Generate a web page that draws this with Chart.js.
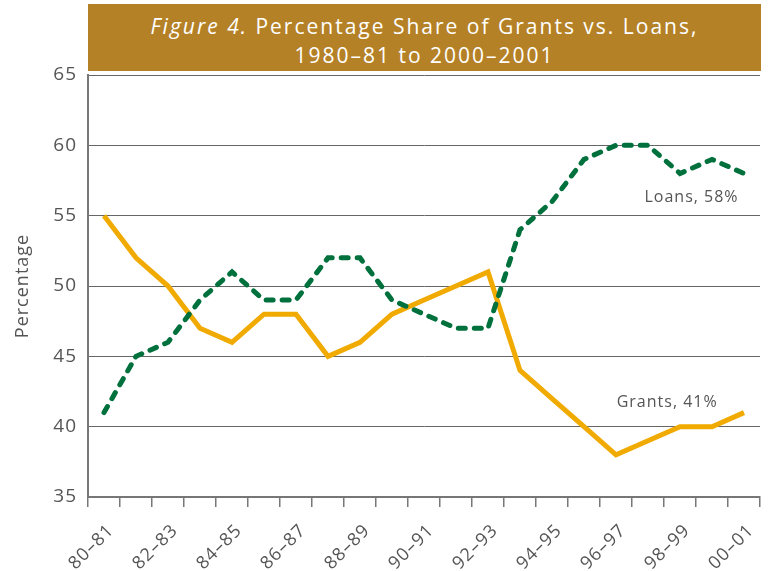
<!DOCTYPE html>
<html>
<head>
<meta charset="utf-8">
<script src="https://cdn.jsdelivr.net/npm/chart.js@4.4.1/dist/chart.umd.min.js"></script>
<style>
  html, body { margin: 0; padding: 0; background: #fff; }
  #wrap { position: relative; width: 769px; height: 571px; }
  #banner {
    position: absolute; left: 88px; top: 4px; width: 673px; height: 67px;
    background: #b58127; color: #fff; text-align: center;
    font-family: 'Open Sans', sans-serif; font-size: 21px; line-height: 29px;
    letter-spacing: 2px; box-sizing: border-box; padding-top: 8px;
  }
  #banner i { font-style: italic; }
</style>
</head>
<body>
<div id="wrap">
  <canvas id="chart" width="769" height="571"></canvas>
  <div id="banner"><i>Figure 4.</i> Percentage Share of Grants vs. Loans,<br>1980–81 to 2000–2001</div>
</div>
<script>
// --- Data ---
const years = ['80–81', '81–82', '82–83', '83–84', '84–85', '85–86', '86–87', '87–88', '88–89', '89–90',
    '90–91', '91–92', '92–93', '93–94', '94–95', '95–96', '96–97', '97–98', '98–99', '99–00', '00–01'];
const grants = [55, 52, 50, 47, 46, 48, 48, 45, 46, 48, 49, 50, 51, 44, 42, 40, 38, 39, 40, 40, 41];
const loans = [41, 45, 46, 49, 51, 49, 49, 52, 52, 49, 48, 47, 47, 54, 56, 59, 60, 60, 58, 59, 58];
const yTicks = [35, 40, 45, 50, 55, 60, 65];

// series end labels: text, category index, value
const seriesLabels = [
    { text: 'Loans, 58%', idx: 18.36, val: 56.3 },
    { text: 'Grants, 41%', idx: 17.6, val: 41.7 }
];

const FONT = "'Open Sans', sans-serif";
const GREY = '#555';

// wide tracking like the original typeface
const tracking = {
    id: 'tracking',
    beforeLayout(chart) { chart.ctx.letterSpacing = '1px'; },
    beforeDraw(chart) { chart.ctx.letterSpacing = '1px'; }
};

// --- Plugin: end labels ---
const endLabels = {
    id: 'endLabels',
    afterDatasetsDraw(chart) {
        const ctx = chart.ctx;
        const x = chart.scales.x, y = chart.scales.y;
        ctx.save();
        ctx.font = '16px ' + FONT;
        ctx.fillStyle = GREY;
        ctx.textAlign = 'center';
        ctx.textBaseline = 'middle';
        seriesLabels.forEach(l => {
            ctx.fillText(l.text, x.getPixelForValue(l.idx), y.getPixelForValue(l.val));
        });
        ctx.restore();
    }
};

// --- Chart.js ---
const ctx = document.getElementById('chart').getContext('2d');
new Chart(ctx, {
    type: 'line',
    data: {
        labels: years,
        datasets: [
            { label: 'Grants', data: grants, borderColor: '#f0aa00', borderWidth: 5, pointRadius: 0,
              fill: false, tension: 0, order: 1, borderJoinStyle: 'miter' },
            { label: 'Loans', data: loans, borderColor: '#00703c', borderWidth: 5, pointRadius: 0,
              fill: false, tension: 0, order: 0, borderDash: [7, 9], borderCapStyle: 'round' }
        ]
    },
    options: {
        responsive: false,
        animation: false,
        layout: { padding: { top: 75, right: 9, left: 0, bottom: 0 } },
        plugins: {
            legend: { display: false },
            tooltip: { enabled: false }
        },
        scales: {
            x: {
                offset: true,
                grid: { display: true, offset: true, drawOnChartArea: false, drawTicks: true,
                        tickLength: 10, color: '#777', lineWidth: 1.5 },
                border: { display: true, color: '#777', width: 2 },
                ticks: {
                    autoSkip: false, minRotation: 45, maxRotation: 45, padding: 13, labelOffset: 7,
                    color: GREY, font: { family: FONT, size: 18 },
                    callback: (v, i) => i % 2 === 0 ? years[i] : ''
                },
                afterFit: (s) => { s.height = 74; s.paddingLeft = 0; s.paddingRight = 0; }
            },
            y: {
                min: 35, max: 65,
                afterBuildTicks: (s) => { s.ticks = yTicks.map(v => ({ value: v })); },
                grid: { color: '#666', lineWidth: 1, drawTicks: false },
                border: { display: true, color: '#777', width: 2 },
                ticks: { padding: 11, color: GREY, font: { family: FONT, size: 19 } },
                title: { display: true, text: 'Percentage', color: GREY,
                         font: { family: FONT, size: 18 }, padding: { top: 12, bottom: 0 } },
                afterFit: (s) => { s.width = 88; }
            }
        }
    },
    plugins: [tracking, endLabels]
});
</script>
</body>
</html>
